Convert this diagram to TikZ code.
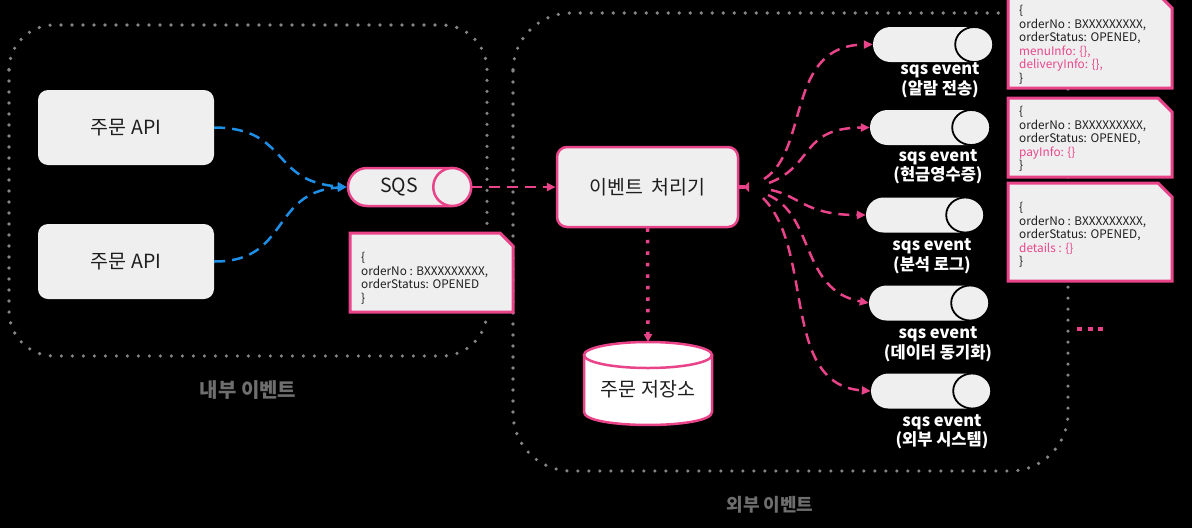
\documentclass[tikz,border=0pt]{standalone}
\usepackage{fontspec}
\setmainfont{Noto Sans CJK KR}
\usetikzlibrary{arrows.meta}
\definecolor{pink}{HTML}{E9438A}
\definecolor{notepink}{HTML}{E8468C}
\definecolor{flowblue}{HTML}{1E8FE6}
\definecolor{dotgray}{HTML}{858585}
\definecolor{boxgray}{HTML}{EFEFEF}
\definecolor{lblgray}{HTML}{6E6E6E}
\definecolor{textdark}{HTML}{1E1E1E}
\tikzset{
  dotframe/.style={draw=dotgray, line width=3.6pt, line cap=round, dash pattern=on 0pt off 11pt},
  apibox/.style={fill=boxgray, rounded corners=10pt, minimum width=176pt, minimum height=75pt, inner sep=0pt, text=textdark, font=\fontsize{19.5}{23}\selectfont},
  procbox/.style={apibox, draw=pink, line width=2.5pt, minimum width=181pt, minimum height=80pt},
  pdash/.style={draw=pink, line width=2.5pt, dash pattern=on 11pt off 7pt, -{Triangle[length=9pt,width=8pt]}},
  bdash/.style={draw=flowblue, line width=2.5pt, dash pattern=on 11pt off 7pt, -{Triangle[length=9pt,width=8pt]}},
  notefill/.style={fill=boxgray, draw=pink, line width=3pt, line join=miter},
  notetext/.style={anchor=north west, inner sep=0pt, align=left, text=textdark, font=\fontsize{11.8}{13.6}\selectfont},
  evpill/.style={fill=boxgray, minimum width=120pt, minimum height=35pt, rounded corners=17.5pt, inner sep=0pt},
  evlabel/.style={align=center, text=white, inner sep=0pt, font=\bfseries\fontsize{16.5}{19.5}\selectfont},
  grouplbl/.style={text=lblgray, inner sep=0pt, font=\bfseries\fontsize{18}{22}\selectfont}
}
\begin{document}
\begin{tikzpicture}[x=1pt,y=-1pt]
\useasboundingbox (0,0) rectangle (1192,528);
\fill[black] (0,0) rectangle (1192,528);

% group frames
\draw[dotframe, rounded corners=45pt] (9,25) rectangle (487,356);
\draw[dotframe, rounded corners=58pt] (513,13) rectangle (1068,471);
\node[grouplbl, font=\bfseries\fontsize{20}{24}\selectfont] (inlbl) at (248,390) {내부 이벤트};
\node[grouplbl] (exlbl) at (770,505) {외부 이벤트};

% API boxes
\node[apibox] (api1) at (126,127.5) {주문 API};
\node[apibox] (api2) at (126,261.5) {주문 API};

% SQS
\node[fill=boxgray, draw=pink, line width=2.5pt, minimum width=122pt, minimum height=38pt, rounded corners=19pt, inner sep=0pt] (sqs) at (409,187) {};
\draw[fill=boxgray, draw=pink, line width=2.5pt] ([xshift=-19pt]sqs.east) ellipse [x radius=19, y radius=19];
\node[text=textdark, inner sep=0pt, font=\fontsize{19.5}{23}\selectfont] (sqslbl) at (399,187) {SQS};

% SQS note
\path[notefill] (350,233) -- (500,233) -- (513,246) -- (513,312) -- (350,312) -- cycle;
\node[notetext] (sqsnote) at (361,252) {\{\\orderNo : BXXXXXXXXX,\\orderStatus: OPENED\\\}};

% blue flows
\draw[bdash] (api1.east) .. controls (290,128) and (270,182) .. (sqs.west);
\draw[bdash] (api2.east) .. controls (290,262) and (270,192) .. (sqs.west);

% processor
\node[procbox] (proc) at (647.5,187) {이벤트 \ 처리기};
\draw[pdash] (sqs.east) -- (proc.west);

% storage cylinder
\coordinate (dbtop) at (648,342);
\fill[white] (584,355) -- (584,412) .. controls (584,429.3) and (712,429.3) .. (712,412) -- (712,355) -- cycle;
\draw[pink, line width=2.5pt, fill=white] (584,355) -- (584,412) .. controls (584,429.3) and (712,429.3) .. (712,412) -- (712,355);
\draw[pink, line width=2.5pt, fill=white] (648,355) ellipse [x radius=64, y radius=13];
\node[text=textdark, inner sep=0pt, font=\fontsize{19.5}{23}\selectfont] (db) at (648,389) {주문 저장소};
\draw[pink, line width=3.5pt, dash pattern=on 3.5pt off 8pt, -{Triangle[length=8pt,width=8pt]}] (proc.south) -- (dbtop);

% fan stub
\coordinate (fan) at (749,187);
\draw[pink, line width=3.5pt, -{Triangle[reversed,length=5pt,width=10pt]}] (proc.east) -- (fan);

% event pills
\node[evpill] (e1) at (933,44.5) {};
\node[evpill] (e2) at (930,127.5) {};
\node[evpill, minimum width=118pt] (e3) at (925,215) {};
\node[evpill] (e4) at (929,303) {};
\node[evpill] (e5) at (931,391) {};
\foreach \e in {e1,e2,e3,e4,e5}{
  \draw[fill=boxgray, draw=black, line width=1.8pt] ([xshift=-19pt]\e.east) ellipse [x radius=19, y radius=17.5];
}
\node[evlabel] (l1) at (940,80) {sqs event\\(알람 전송)};
\node[evlabel] (l2) at (938,166.5) {sqs event\\(현금영수증)};
\node[evlabel] (l3) at (932,256) {sqs event\\(분석 로그)};
\node[evlabel] (l4) at (938,344) {sqs event\\(데이터 동기화)};
\node[evlabel] (l5) at (942,431.5) {sqs event\\(외부 시스템)};

% fan curves
\coordinate (f1) at (764,179);
\coordinate (f2) at (769,183);
\coordinate (f3) at (771,190);
\coordinate (f4) at (768,195);
\coordinate (f5) at (763,198);
\draw[pdash] (f1) .. controls (810,150) and (785,45) .. (e1.west);
\draw[pdash] (f2) .. controls (815,165) and (800,128) .. (e2.west);
\draw[pdash] (f3) .. controls (800,196) and (805,215) .. (e3.west);
\draw[pdash] (f4) .. controls (815,215) and (800,290) .. (e4.west);
\draw[pdash] (f5) .. controls (815,250) and (780,385) .. (e5.west);

% right notes
\path[notefill] (1008,-6) -- (1158,-6) -- (1172,8) -- (1172,88) -- (1008,88) -- cycle;
\node[notetext] (n1) at (1019,5) {\{\\orderNo : BXXXXXXXXX,\\orderStatus: OPENED,\\\textcolor{notepink}{menuInfo: \{\},}\\\textcolor{notepink}{deliveryInfo: \{\},}\\\}};
\path[notefill] (1008,98) -- (1158,98) -- (1172,112) -- (1172,177) -- (1008,177) -- cycle;
\node[notetext] (n2) at (1019,106) {\{\\orderNo : BXXXXXXXXX,\\orderStatus: OPENED,\\\textcolor{notepink}{payInfo: \{\}}\\\}};
\path[notefill] (1008,183) -- (1158,183) -- (1172,197) -- (1172,281) -- (1008,281) -- cycle;
\node[notetext] (n3) at (1019,202) {\{\\orderNo : BXXXXXXXXX,\\orderStatus: OPENED,\\\textcolor{notepink}{details : \{\}}\\\}};

% more marker
\coordinate (m1) at (1077,329);
\coordinate (m2) at (1104,329);
\draw[pink, line width=4.5pt, dash pattern=on 5pt off 5.5pt] (m1) -- (m2);
\end{tikzpicture}
\end{document}
